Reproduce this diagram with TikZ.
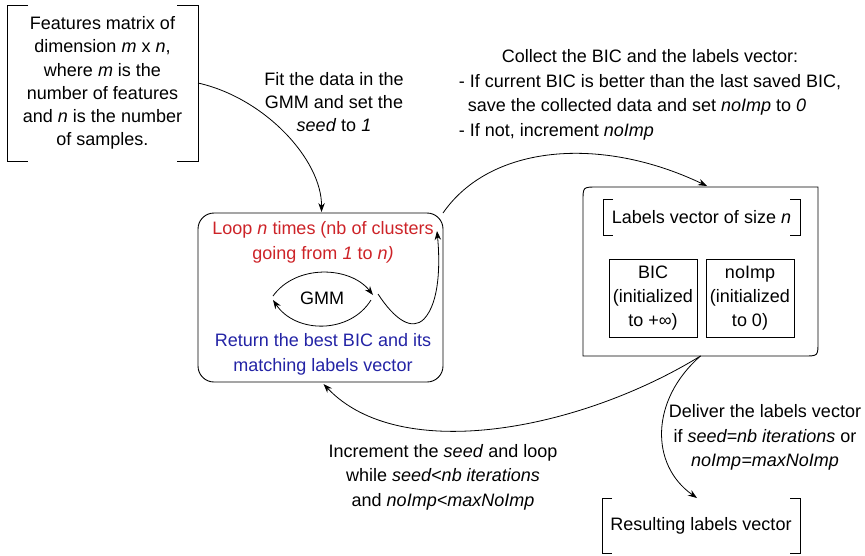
\documentclass[tikz,border=0pt]{standalone}
\usepackage{fontspec}
\setmainfont{Liberation Sans}
\usetikzlibrary{arrows.meta,calc}
\definecolor{loopred}{RGB}{205,35,40}
\definecolor{loopblue}{RGB}{35,35,165}
\begin{document}
\begin{tikzpicture}[x=1pt,y=-1pt,
  txt/.style={font=\fontsize{18}{24.5}\selectfont, align=center, inner sep=0pt},
  ftxt/.style={font=\fontsize{18}{23.2}\selectfont, align=center, inner sep=0pt},
  arr/.style={-{Stealth[length=9pt,width=6.5pt]}, line width=0.8pt},
  box/.style={draw, line width=0.9pt},
  frame/.style={inner sep=0pt, outer sep=0pt}]
\useasboundingbox (0,0) rectangle (865,555);

% Features bracket box
\node[ftxt, minimum width=191pt, minimum height=156pt, outer sep=0pt] (feat) at (102.5,83)
  {Features matrix of\\dimension \textit{m} x \textit{n},\\where \textit{m} is the\\number of features\\and \textit{n} is the number\\of samples.};
\draw[box] ($(feat.north west)+(21,0)$) -- (feat.north west) -- (feat.south west) -- ++(21,0);
\draw[box] ($(feat.north east)+(-21,0)$) -- (feat.north east) -- (feat.south east) -- ++(-21,0);

% Fit text
\node[ftxt] (fit) at (334,102) {Fit the data in the\\GMM and set the\\\textit{seed} to \textit{1}};

% Loop box
\node[box, rounded corners=16pt, minimum width=245pt, minimum height=169pt, outer sep=0pt] (loop) at (320.5,297.5) {};
\draw[arr] (feat.east) .. controls (265,98) and (322,160) .. ($(loop.north)+(1,-1)$);
\node[txt, text=loopred] (looptxt) at (323,242.5) {Loop \textit{n} times (nb of clusters\\going from \textit{1} to \textit{n)}};
\node[txt] (gmm) at (322,298) {GMM};
\node[txt, text=loopblue] (ret) at (323,354.5) {Return the best BIC and its\\matching labels vector};
\coordinate (gUL) at (273,296);
\coordinate (gUR) at (373,295);
\coordinate (gLR) at (371,300);
\coordinate (gLL) at (273,300);
\draw[arr] (gUL) .. controls (296,264) and (350,266) .. (gUR);
\draw[arr] (gLR) .. controls (350,334) and (296,334) .. (gLL);
\coordinate (sS) at (378,294);
\coordinate (sE) at (437,231);
\draw[arr] (sS) .. controls (395,320) and (412,331) .. (424,319) .. controls (440,302) and (440,262) .. (sE);

% Collect text
\node[inner sep=0pt, font=\fontsize{18}{24.8}\selectfont] (collect) at (650,94.5)
  {\begin{tabular}{@{}l@{}}\multicolumn{1}{@{}c@{}}{Collect the BIC and the labels vector:}\\
   - If current BIC is better than the last saved BIC,\\
   \hspace*{0.5em}save the collected data and set \textit{noImp} to \textit{0}\\
   - If not, increment \textit{noImp}\end{tabular}};

% Labels box
\node[frame, minimum width=235pt, minimum height=169pt] (lab) at (700.5,271.5) {};
\draw[box] ($(lab.north west)+(0,14)$) .. controls (lab.north west) .. ($(lab.north west)+(14,0)$)
  -- (lab.north east) -- ($(lab.south east)+(0,-14)$) .. controls (lab.south east) .. ($(lab.south east)+(-14,0)$)
  -- (lab.south west) -- cycle;
\node[txt, frame, minimum width=197pt, minimum height=36pt] (lv) at (701.5,217) {Labels vector of size \textit{n}};
\draw[box] ($(lv.north west)+(10,0)$) -- (lv.north west) -- (lv.south west) -- ++(10,0);
\draw[box] ($(lv.north east)+(-10,0)$) -- (lv.north east) -- (lv.south east) -- ++(-10,0);
\node[txt, box, minimum width=88pt, minimum height=78pt, font=\fontsize{18}{24}\selectfont] (bic) at (653,298) {BIC\\(initialized\\to +∞)};
\node[txt, box, minimum width=88pt, minimum height=78pt, font=\fontsize{18}{24}\selectfont] (noimp) at (750,298) {noImp\\(initialized\\to 0)};

% Arrow loop -> labels
\draw[arr] (loop.north east) .. controls (490,145) and (600,135) .. ($(lab.north)+(6.5,-1)$);

% Arrow labels -> loop
\draw[arr] (lab.south) .. controls (580,430) and (400,465) .. ($(loop.south)+(3,2)$);
\node[txt] (incr) at (443,477) {Increment the \textit{seed} and loop\\while \textit{seed<nb iterations}\\and \textit{noImp<maxNoImp}};

% Deliver
\node[txt] (deliv) at (765,437.5) {Deliver the labels vector\\if \textit{seed=nb iterations} or\\\textit{noImp=maxNoImp}};
\node[txt, frame, minimum width=198pt, minimum height=55pt] (res) at (701,525.5) {Resulting labels vector};
\draw[box] ($(res.north west)+(10,0)$) -- (res.north west) -- (res.south west) -- ++(10,0);
\draw[box] ($(res.north east)+(-10,0)$) -- (res.north east) -- (res.south east) -- ++(-10,0);
\draw[arr] (lab.south) .. controls (650,400) and (650,465) .. ($(res.north)+(-4,0)$);
\end{tikzpicture}
\end{document}
